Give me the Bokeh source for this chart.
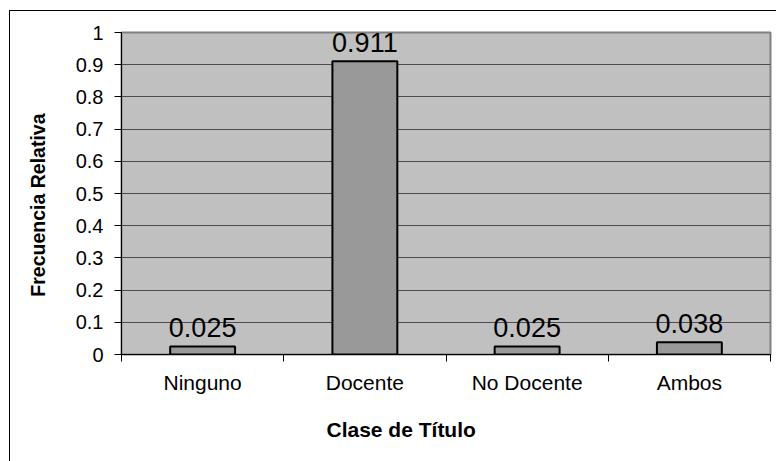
import numpy as np
from bokeh.plotting import figure
from bokeh.models import Range1d, FixedTicker, ColumnDataSource, InlineStyleSheet, Title
from bokeh.core.properties import value
from bokeh.embed import file_html
from bokeh.resources import INLINE

categories = ["Ninguno", "Docente", "No Docente", "Ambos"]
values = [0.025, 0.911, 0.025, 0.038]
value_labels = ["0.025", "0.911", "0.025", "0.038"]
y_ticks = [0, 0.1, 0.2, 0.3, 0.4, 0.5, 0.6, 0.7, 0.8, 0.9, 1]
y_tick_labels = ["0", "0.1", "0.2", "0.3", "0.4", "0.5", "0.6", "0.7", "0.8", "0.9", "1"]
x_title = "Clase de Título"
y_title = "Frecuencia Relativa"

xs = list(np.arange(len(categories)) + 0.5)
bounds = list(np.arange(len(categories) + 1).astype(float))

src = ColumnDataSource(dict(x=xs, top=values, lab=value_labels))

FONT = "Liberation Sans"

W, H = 776, 461
BL, BR, BT, BB = 120, 6, 32, 107

frame_css = InlineStyleSheet(css="""
:host::after {
  content: "";
  position: absolute;
  left: 9px;
  top: 10px;
  width: 2000px;
  height: 2000px;
  border-left: 1.5px solid black;
  border-top: 1.5px solid black;
  pointer-events: none;
  z-index: 10;
}
:host { overflow: hidden; }
""")

p = figure(width=W, height=H, output_backend="svg", toolbar_location=None,
           x_range=Range1d(0, len(categories)), y_range=Range1d(0, 1),
           min_border_left=BL, min_border_right=BR, min_border_top=BT, min_border_bottom=BB,
           stylesheets=[frame_css])
p.background_fill_color = "#C0C0C0"
p.border_fill_color = "white"
p.outline_line_color = "#808080"
p.outline_line_width = 2

p.vbar(x="x", top="top", width=0.4, source=src, fill_color="#999999",
       line_color="black", line_width=2)
p.text(x="x", y="top", text="lab", source=src, text_align="center",
       text_baseline="alphabetic", y_offset=-19, text_font=value(FONT),
       text_font_size="27px", text_color="black")

p.xgrid.visible = False
p.ygrid.ticker = FixedTicker(ticks=y_ticks)
p.ygrid.grid_line_color = "#4d4d4d"
p.ygrid.grid_line_width = 1

xa = p.xaxis[0]
xa.ticker = FixedTicker(ticks=xs, minor_ticks=bounds)
xa.major_label_overrides = {x: c for x, c in zip(xs, categories)}
xa.major_tick_out = 0
xa.major_tick_in = 0
xa.minor_tick_out = 7
xa.minor_tick_in = 0
xa.minor_tick_line_color = "black"
xa.axis_line_color = "black"
xa.major_label_standoff = 9
xa.major_label_text_font = FONT
xa.major_label_text_font_size = "21px"
xa.major_label_text_color = "black"

ya = p.yaxis[0]
ya.ticker = FixedTicker(ticks=y_ticks)
ya.major_label_overrides = {t: s for t, s in zip(y_ticks, y_tick_labels)}
ya.major_tick_out = 7
ya.major_tick_in = 0
ya.minor_tick_out = 0
ya.minor_tick_in = 0
ya.axis_line_color = "black"
ya.major_tick_line_color = "black"
ya.major_label_standoff = 11
ya.major_label_text_font = FONT
ya.major_label_text_font_size = "20px"
ya.major_label_text_color = "black"

xt = Title(text=x_title, align="left", offset=205, standoff=38,
           text_font=FONT, text_font_style="bold", text_font_size="21px",
           text_color="black")
p.add_layout(xt, "below")

yt = Title(text=y_title, align="right", offset=81, standoff=48,
           text_font=FONT, text_font_style="bold", text_font_size="19.5px",
           text_color="black")
p.add_layout(yt, "left")

open("out.html", "w").write(file_html(p, INLINE))
